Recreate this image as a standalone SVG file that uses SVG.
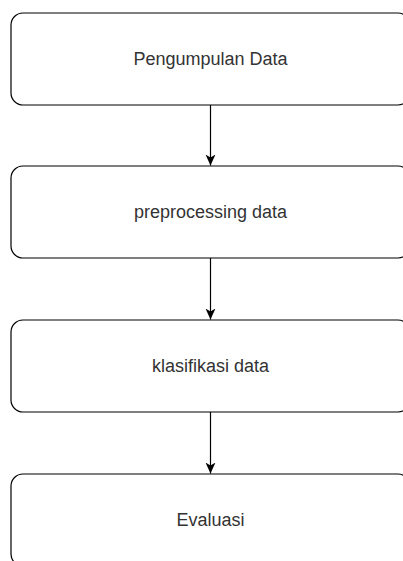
<svg xmlns="http://www.w3.org/2000/svg" width="403" height="561" viewBox="0 0 403 561">
<defs>
<style>
.box{fill:#fff;stroke:#000;stroke-width:1.2}
.lbl{font-family:"Liberation Sans",Arial,Helvetica,sans-serif;font-size:18px;fill:#333;text-anchor:middle}
.conn{stroke:#000;stroke-width:1.2;fill:none}
</style>
<marker id="arr" viewBox="0 0 12 12" refX="11" refY="6" markerWidth="12" markerHeight="12" markerUnits="userSpaceOnUse" orient="auto">
<path d="M0,1 L11,6 L0,11 L3,6 Z" fill="#000"/>
</marker>
</defs>
<rect width="403" height="561" fill="#fff"/>
<g id="n1"><rect class="box" x="11" y="13" width="399" height="92" rx="12"/><text class="lbl" x="210.5" y="65">Pengumpulan Data</text></g>
<g id="n2"><rect class="box" x="11" y="166" width="399" height="92" rx="12"/><text class="lbl" x="210.5" y="218">preprocessing data</text></g>
<g id="n3"><rect class="box" x="11" y="320" width="399" height="92" rx="12"/><text class="lbl" x="210.5" y="372">klasifikasi data</text></g>
<g id="n4"><rect class="box" x="11" y="474" width="399" height="92" rx="12"/><text class="lbl" x="210.5" y="526">Evaluasi</text></g>
<g id="connectors">
<line class="conn" x1="210.5" y1="105" x2="210.5" y2="165.5" marker-end="url(#arr)"/>
<line class="conn" x1="210.5" y1="258" x2="210.5" y2="319.5" marker-end="url(#arr)"/>
<line class="conn" x1="210.5" y1="412" x2="210.5" y2="473.5" marker-end="url(#arr)"/>
</g>
</svg>
